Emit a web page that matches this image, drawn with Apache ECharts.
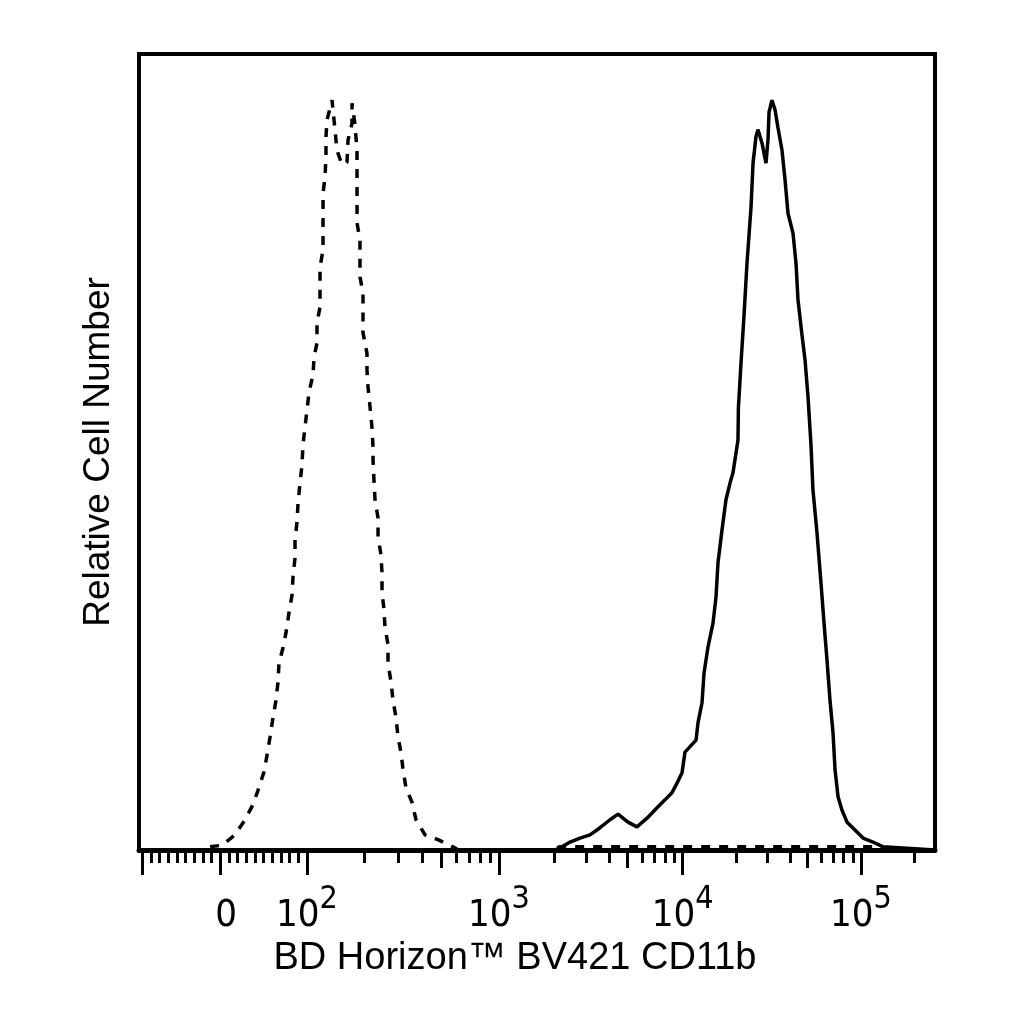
<!DOCTYPE html>
<html>
<head>
<meta charset="utf-8">
<script src="https://cdn.jsdelivr.net/npm/echarts@6/dist/echarts.min.js"></script>
<style>
  html, body { margin: 0; padding: 0; background: #fff; }
  #chart { width: 1024px; height: 1024px; }
</style>
</head>
<body>
<div id="chart"></div>
<script>
// histogram data: x in display channels (0-1000), y in relative cell number (%)
const isoChannel = [0, 82.9, 89.2, 104.3, 120.6, 133.2, 143.2, 149.5, 157.0, 160.8, 164.6, 168.3, 172.1, 174.6,
  175.9, 180.9, 184.7, 188.4, 192.2, 193.5, 196.0, 196.0, 198.5, 199.8, 202.3, 204.8, 206.0, 208.5, 211.1, 213.6,
  218.6, 219.9, 223.6, 223.6, 227.4, 227.4, 231.2, 231.2, 233.7, 234.9, 234.9, 236.2, 242.5, 246.2, 248.7, 255.0,
  261.3, 262.6, 267.6, 267.6, 271.4, 273.9, 273.9, 277.6, 277.6, 281.4, 281.4, 286.4, 286.4, 287.7, 290.2, 292.7,
  294.0, 294.0, 295.2, 296.5, 300.3, 300.3, 304.0, 305.3, 305.3, 307.8, 309.0, 312.8, 312.8, 316.6, 319.1, 322.9,
  325.4, 329.2, 331.7, 335.4, 343.0, 348.0, 359.3, 375.6, 394.5, 401.0, 522.0, 528.0, 931.0, 935.0];
const isoCount = [0, 0, 0.4, 0.6, 1.9, 3.8, 5.7, 7.5, 9.8, 11.9, 14.2, 16.6, 18.8, 21.1,
  23.5, 25.4, 27.3, 29.8, 32.0, 34.3, 36.7, 39.0, 41.2, 43.6, 46.1, 48.4, 50.9, 53.1, 55.3, 57.5,
  59.7, 61.9, 63.7, 66.2, 68.2, 73.2, 75.4, 82.5, 84.6, 87.1, 89.6, 91.7, 94.2, 90.5, 87.9, 86.1,
  86.4, 89.2, 91.3, 93.8, 91.1, 87.9, 78.8, 76.6, 72.0, 70.0, 65.0, 62.4, 60.3, 58.2, 55.7, 53.1,
  50.6, 49.0, 46.5, 44.0, 41.7, 39.3, 37.1, 34.8, 32.3, 30.2, 28.0, 25.8, 23.5, 21.1, 18.8, 16.6,
  14.2, 12.2, 10.1, 7.8, 6.0, 3.8, 1.9, 1.3, 0.4, 0, 0, 0.4, 0.4, 0];

const cd11bChannel = [0, 522.6, 531.4, 541.5, 554.0, 566.6, 579.2, 591.7, 601.8, 614.3, 625.6, 638.2, 650.8,
  660.8, 669.6, 675.9, 682.2, 685.9, 699.8, 702.3, 707.3, 709.8, 714.8, 721.1, 724.9, 727.4, 732.4, 737.4,
  742.5, 746.2, 752.5, 753.0, 756.3, 760.1, 763.8, 768.9, 771.4, 775.1, 777.6, 782.7, 787.7, 790.2, 791.5,
  795.2, 799.0, 802.8, 807.8, 811.6, 815.3, 821.6, 825.4, 827.9, 832.9, 836.7, 840.5, 844.2, 846.7, 851.8,
  856.8, 860.6, 864.3, 868.1, 871.9, 874.4, 878.2, 883.2, 889.5, 899.5, 909.6, 922.1, 934.7, 1000];
const cd11bCount = [0, 0, 0.4, 1.0, 1.5, 1.9, 2.8, 3.8, 4.5, 3.5, 2.9, 4.0, 5.3,
  6.3, 7.2, 8.4, 9.7, 12.3, 13.8, 16.0, 18.5, 22.2, 25.5, 28.5, 31.8, 36.1, 40.2, 44.0,
  46.1, 47.4, 51.5, 55.5, 61.2, 67.2, 73.7, 80.8, 86.3, 89.6, 90.5, 88.8, 86.3, 89.2, 92.7,
  94.2, 93.0, 90.7, 87.9, 84.2, 80.0, 77.5, 73.7, 69.1, 64.7, 61.6, 56.9, 50.9, 45.2, 39.8,
  33.5, 28.5, 23.9, 18.8, 14.7, 10.1, 6.7, 5.0, 3.5, 2.5, 1.5, 1.0, 0.4, 0];

// axis ticks in fluorescence units
const majorTickValues = [-90, 0, 100, 1000, 10000, 100000];
const mediumTickValues = [500, 5000, 50000];
const minorTickValues = [-80, -70, -60, -50, -40, -30, -20, -10, 10, 20, 30, 40, 50, 60, 70, 80, 90,
  200, 300, 400, 600, 700, 800, 900, 2000, 3000, 4000, 6000, 7000, 8000, 9000,
  20000, 30000, 40000, 60000, 70000, 80000, 90000, 200000];
const tickLabelValues = [0, 100, 1000, 10000, 100000];
const tickLabels = ['0', '10^2', '10^3', '10^4', '10^5'];

// biexponential-like display transform: linear near zero, log above 100
function toChannel(v) {
    if (v <= 100) return 102 + v * 1.09;
    if (v <= 1000) return 211 + Math.log10(v / 100) * 241;
    if (v <= 10000) return 452 + Math.log10(v / 1000) * 231;
    return 683 + Math.log10(v / 10000) * 224;
}

const labelChannels = tickLabelValues.map(toChannel);

function formatLabel(val) {
    const i = labelChannels.findIndex(c => Math.abs(c - val) < 0.5);
    if (i < 0) return '';
    const parts = tickLabels[i].split('^');
    return parts.length > 1 ? `{n|${parts[0]}}{s|${parts[1]}}` : `{z|${parts[0]}}`;
}

const tickFont = '"Liberation Sans Narrow", "DejaVu Sans Condensed", "Liberation Sans", sans-serif';

function zipData(xs, ys) {
    return xs.map((x, i) => [x, ys[i]]);
}

function tickAxis(values, len, extra) {
    return Object.assign({
        type: 'value', min: 0, max: 1000, position: 'bottom',
        axisLine: { show: false },
        axisTick: { show: true, customValues: values.map(toChannel), length: len, lineStyle: { color: '#000', width: 3 } },
        axisLabel: { show: false },
        splitLine: { show: false }
    }, extra || {});
}

const chart = echarts.init(document.getElementById('chart'));
chart.setOption({
    animation: false,
    backgroundColor: '#fff',
    grid: { left: 139, right: 89, top: 54, bottom: 174, show: true, borderColor: '#000', borderWidth: 4 },
    xAxis: [
        tickAxis(majorTickValues, 25, {
            axisLine: { show: true, lineStyle: { color: '#000', width: 5 } },
            axisLabel: {
                show: true, customValues: labelChannels, margin: 34, formatter: formatLabel,
                rich: {
                    n: { fontSize: 38, fontFamily: tickFont, color: '#000', lineHeight: 64 },
                    z: { fontSize: 38, fontFamily: tickFont, color: '#000', lineHeight: 64, padding: [0, 0, 0, 12] },
                    s: { fontSize: 32, fontFamily: tickFont, color: '#000', lineHeight: 32, verticalAlign: 'top' }
                }
            },
            name: 'BD Horizon™ BV421 CD11b',
            nameLocation: 'middle',
            nameGap: 86,
            nameTextStyle: { fontSize: 38, fontFamily: 'Liberation Sans', color: '#000', padding: [0, 44, 0, 0] }
        }),
        tickAxis(mediumTickValues, 18),
        tickAxis(minorTickValues, 13)
    ],
    yAxis: {
        type: 'value', min: 0, max: 100,
        axisLine: { show: false }, axisTick: { show: false }, axisLabel: { show: false }, splitLine: { show: false },
        name: 'Relative Cell Number',
        nameLocation: 'middle',
        nameGap: 22,
        nameTextStyle: { fontSize: 37, fontFamily: 'Liberation Sans', color: '#000' }
    },
    series: [
        {
            name: 'Isotype', type: 'line', data: zipData(isoChannel, isoCount), showSymbol: false,
            lineStyle: { color: '#000', width: 3.5, type: [9, 9] }
        },
        {
            name: 'CD11b', type: 'line', data: zipData(cd11bChannel, cd11bCount), showSymbol: false,
            lineStyle: { color: '#000', width: 3.5 }
        }
    ]
});
</script>
</body>
</html>
